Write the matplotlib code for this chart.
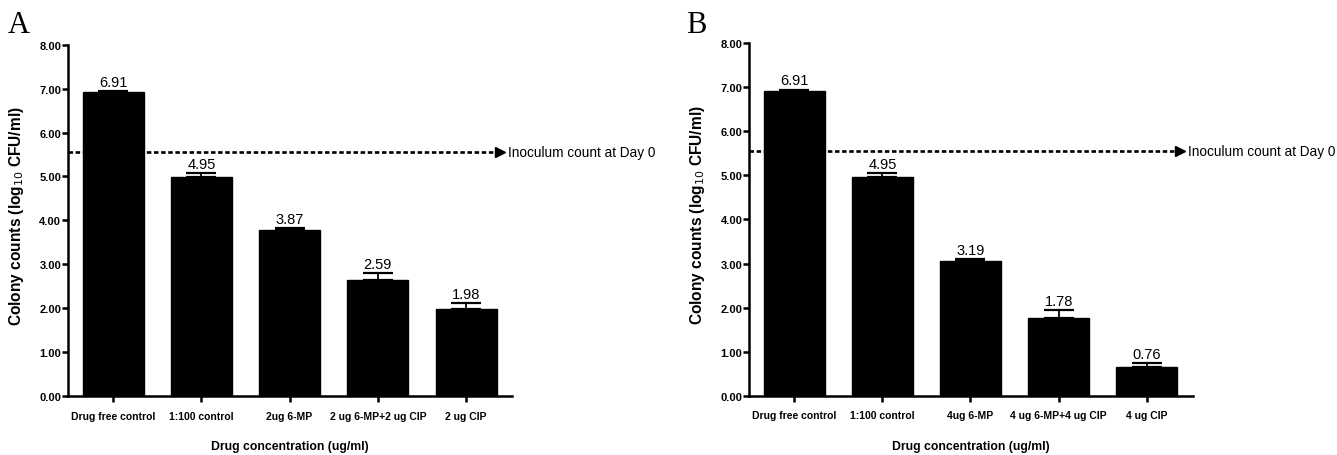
import matplotlib
matplotlib.use("Agg")
import matplotlib.pyplot as plt
from matplotlib import font_manager

# ---------------- data ----------------
categories_a = ["Drug free control", "1:100 control", "2ug 6-MP", "2 ug 6-MP+2 ug CIP", "2 ug CIP"]
values_a = [6.93, 4.98, 3.77, 2.64, 1.97]
errors_a = [0.02, 0.10, 0.05, 0.17, 0.15]
labels_a = ["6.91", "4.95", "3.87", "2.59", "1.98"]

categories_b = ["Drug free control", "1:100 control", "4ug 6-MP", "4 ug 6-MP+4 ug CIP", "4 ug CIP"]
values_b = [6.91, 4.96, 3.05, 1.76, 0.66]
errors_b = [0.04, 0.09, 0.05, 0.19, 0.09]
labels_b = ["6.91", "4.95", "3.19", "1.78", "0.76"]

inoculum = 5.56
yticks = [0, 1, 2, 3, 4, 5, 6, 7, 8]
ytick_labels = ["0.00", "1.00", "2.00", "3.00", "4.00", "5.00", "6.00", "7.00", "8.00"]
ylabel = "Colony counts (log$_{10}$ CFU/ml)"
xlabel = "Drug concentration (ug/ml)"
inoc_text = "Inoculum count at Day 0"

# ---------------- fonts ----------------
try:
    font_manager.findfont("Liberation Sans Narrow", fallback_to_default=False)
    narrow = True
except Exception:
    narrow = False

if narrow:
    hfam = ["Liberation Sans Narrow", "Liberation Sans"]
    s_tick, s_xtick, s_xlab, s_val, s_inoc = 9, 9, 10.5, 11.5, 11.5
else:
    hfam = ["Liberation Sans", "DejaVu Sans"]
    s_tick, s_xtick, s_xlab, s_val, s_inoc = 8.0, 7.5, 8.8, 10.5, 9.8

fig = plt.figure(figsize=(13.37, 4.56), dpi=100)

def panel(rect, cats, vals, errs, labs, letter, letter_x):
    ax = fig.add_axes(rect)
    x = list(range(len(cats)))
    ax.plot([-0.51, 4.33], [inoculum, inoculum], color="black", lw=1.9,
            linestyle=(0, (1.7, 1.0)), zorder=1, clip_on=False)
    ax.plot([4.38], [inoculum], marker=">", color="black", markersize=7.5, zorder=1, clip_on=False)
    ax.text(4.47, inoculum, inoc_text, ha="left", va="center", fontsize=s_inoc,
            family=hfam, clip_on=False)
    ax.bar(x, vals, width=0.69, color="black", edgecolor="black", zorder=2)
    ax.errorbar(x, vals, yerr=[[0] * len(errs), errs], fmt="none", ecolor="black",
                elinewidth=1.3, capsize=10.5, capthick=1.6, zorder=3)
    for xi, v, e, l in zip(x, vals, errs, labs):
        ax.annotate(l, (xi, v + e), xytext=(0, 1.5), textcoords="offset points",
                    ha="center", va="bottom", fontsize=s_val, family=hfam)
    ax.set_xlim(-0.51, 4.52)
    ax.set_ylim(0, 8)
    ax.spines["top"].set_visible(False)
    ax.spines["right"].set_visible(False)
    ax.spines["left"].set_linewidth(1.8)
    ax.spines["bottom"].set_linewidth(1.8)
    ax.set_yticks(yticks)
    ax.set_yticklabels(ytick_labels, fontsize=s_tick, fontweight="bold", family=hfam)
    ax.set_xticks(x)
    ax.set_xticklabels(cats, fontsize=s_xtick, fontweight="bold", family=hfam)
    ax.tick_params(axis="y", length=4.5, width=1.8, pad=0.5)
    ax.tick_params(axis="x", length=4.5, width=1.8, pad=6)
    ax.set_ylabel(ylabel, fontsize=11.2, fontweight="bold", family=["Liberation Sans", "DejaVu Sans"])
    ax.yaxis.set_label_coords(-0.095, 0.515)
    ax.set_xlabel(xlabel, fontsize=s_xlab, fontweight="bold", family=hfam)
    ax.xaxis.set_label_coords(0.5, -0.125)
    fig.text(letter_x, 0.928, letter, fontsize=22, family=["Liberation Serif", "DejaVu Serif"],
             ha="left", va="baseline")
    return ax

panel([0.0509, 0.1294, 0.3321, 0.7704], categories_a, values_a, errors_a, labels_a, "A", 8 / 1337)
panel([0.5604, 0.1300, 0.3316, 0.7729], categories_b, values_b, errors_b, labels_b, "B", 686 / 1337)

fig.savefig("out.png", dpi=100)
